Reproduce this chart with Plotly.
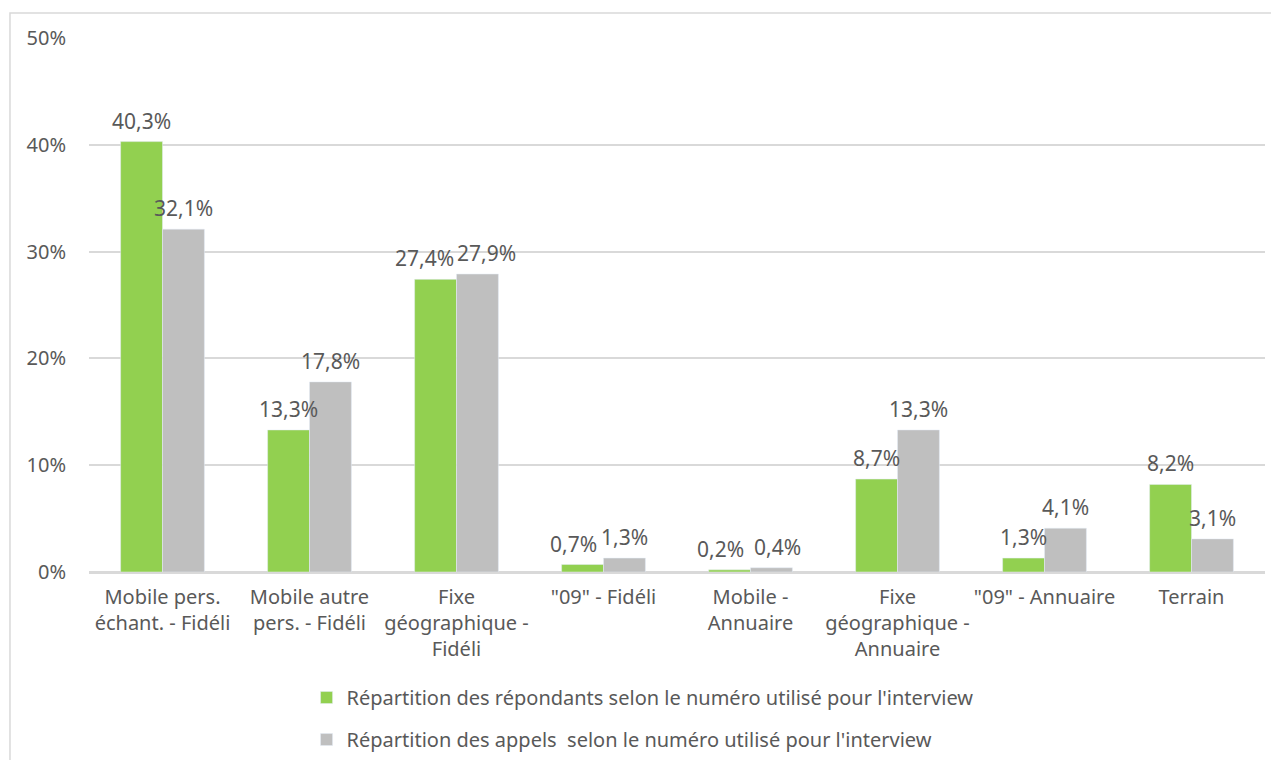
import plotly.graph_objects as go

categories = [
    "Mobile pers.<br>échant. - Fidéli",
    "Mobile autre<br>pers. - Fidéli",
    "Fixe<br>géographique -<br>Fidéli",
    "\"09\" - Fidéli",
    "Mobile -<br>Annuaire",
    "Fixe<br>géographique -<br>Annuaire",
    "\"09\" - Annuaire",
    "Terrain",
]
repondants = [0.403, 0.133, 0.274, 0.007, 0.002, 0.087, 0.013, 0.082]
appels = [0.321, 0.178, 0.279, 0.013, 0.004, 0.133, 0.041, 0.031]

name_rep = "Répartition des répondants selon le numéro utilisé pour l'interview"
name_app = "Répartition des appels  selon le numéro utilisé pour l'interview"

txt = "#595959"
fam = "Noto Sans, Open Sans, sans-serif"

fig = go.Figure()
fig.add_trace(go.Bar(x=categories, y=repondants, name=name_rep, marker_color="#92D050",
                     legendgroup="a"))
fig.add_trace(go.Bar(x=categories, y=appels, name=name_app, marker_color="#BFBFBF",
                     legendgroup="b"))

# data labels as annotations so crowded pairs can be nudged apart like in excel
nudge_rep = {2: -11, 3: -9, 4: -9}
nudge_app = {2: 9, 4: 6}
for i, cat in enumerate(categories):
    for vals, side, nudge in ((repondants, -21, nudge_rep), (appels, 21, nudge_app)):
        fig.add_annotation(x=cat, y=vals[i], text=f"{vals[i]*100:.1f}%".replace(".", ","),
                           showarrow=False, xshift=side + nudge.get(i, 0), yshift=21,
                           yanchor="middle", font=dict(family=fam, size=21, color=txt))

# page body has an 8px margin, so the figure is sized/offset to compensate
fig.update_layout(
    width=1271, height=752,
    margin=dict(l=81, r=14, t=30, b=188),
    plot_bgcolor="white", paper_bgcolor="white",
    separators=", ",
    font=dict(family=fam, size=20, color=txt),
    barmode="group", bargap=0.43, bargroupgap=0,
    showlegend=True,
    legend=dict(orientation="v", x=0.185, xanchor="left", yref="container", y=0.109,
                yanchor="top", font=dict(family=fam, size=20, color=txt), tracegroupgap=13,
                traceorder="grouped", itemwidth=30),
)
fig.update_yaxes(range=[0, 0.5], dtick=0.1, tickformat=".0%", gridcolor="#D9D9D9",
                 gridwidth=1.5, zeroline=True, zerolinecolor="#D9D9D9", zerolinewidth=2,
                 ticklabelstandoff=22, tickfont=dict(family=fam, size=20, color=txt),
                 automargin=False)
fig.update_xaxes(showline=True, linecolor="#D9D9D9", linewidth=2,
                 tickfont=dict(family=fam, size=20, color=txt),
                 ticklabelstandoff=6, automargin=False)

# chart border
fig.add_shape(type="rect", xref="paper", yref="paper", x0=-0.0672, x1=1.011,
              y0=-0.36, y1=1.0468, line=dict(color="#D9D9D9", width=1.5),
              fillcolor="rgba(0,0,0,0)", layer="below")

fig.write_html("out.html")
